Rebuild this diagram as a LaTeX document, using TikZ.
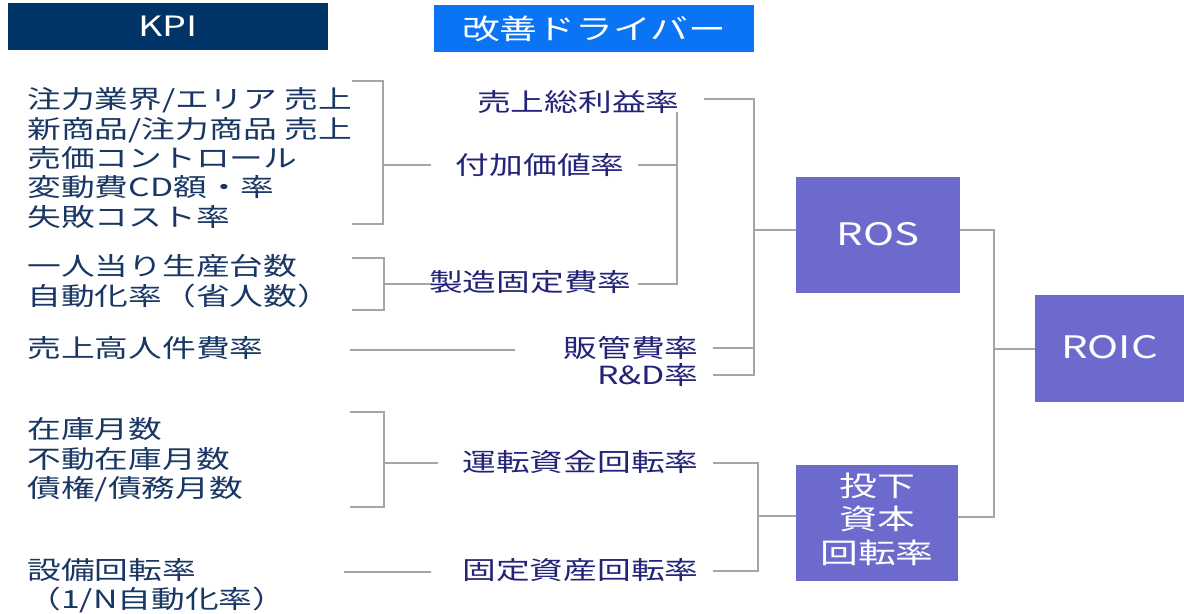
\documentclass[tikz,border=0pt]{standalone}
\usepackage{fontspec}
\setmainfont{Noto Sans CJK JP}
\definecolor{navyhdr}{RGB}{0,51,102}
\definecolor{hdrblue}{RGB}{10,116,245}
\definecolor{boxv}{RGB}{108,106,204}
\definecolor{kpitext}{RGB}{25,55,100}
\definecolor{drvtext}{RGB}{35,35,120}
\definecolor{conncol}{RGB}{165,165,165}
\newcommand{\W}[1]{\scalebox{1.35}[1]{#1}}
\tikzset{
  kpi/.style={anchor=west, inner sep=0pt, text=kpitext, font=\fontsize{12.5}{14.7}\selectfont, align=left},
  drv/.style={anchor=east, inner sep=0pt, text=drvtext, font=\fontsize{12.5}{14.7}\selectfont},
  hdr/.style={inner sep=0pt, text=white, minimum width=160pt, minimum height=23.5pt, font=\fontsize{14}{16}\selectfont},
  ratio/.style={fill=boxv, inner sep=0pt, text=white, font=\fontsize{15.5}{17}\selectfont, align=center},
  conn/.style={draw=conncol, line width=1pt}
}
\begin{document}
\begin{tikzpicture}[x=0.5pt,y=-0.5pt]
\useasboundingbox (0,0) rectangle (1184,614);
% headers
\node[hdr, fill=navyhdr] (kpih) at (168,26.5) {\W{KPI}};
\node[hdr, fill=hdrblue] (drvh) at (594,28.5) {\W{改善ドライバー}};
% connectors (drawn first)
\coordinate (b1t) at (352,81); \coordinate (b1b) at (352,224);
\draw[conn] (b1t) -- (383,81) -- (383,224) -- (b1b);
\draw[conn] (383,165) -- (431,165);
\coordinate (b2t) at (352,258); \coordinate (b2b) at (352,310);
\draw[conn] (b2t) -- (384,258) -- (384,310) -- (b2b);
\draw[conn] (384,284) -- (432,284);
\draw[conn] (350,350) -- (515,350);
\coordinate (b3t) at (350,412); \coordinate (b3b) at (350,507);
\draw[conn] (b3t) -- (384,412) -- (384,507) -- (b3b);
\draw[conn] (384,463) -- (438,463);
\draw[conn] (344,572) -- (431,572);
% inner bracket
\draw[conn] (638,165) -- (677,165);
\draw[conn] (677,112) -- (677,284) -- (638,284);
% ROS bracket
\draw[conn] (704,99) -- (754,99) -- (754,375) -- (713,375);
\draw[conn] (713,348) -- (754,348);
\draw[conn] (754,230) -- (796,230);
% turnover bracket
\draw[conn] (713,463) -- (758,463) -- (758,571) -- (713,571);
\draw[conn] (758,516) -- (796,516);
% ROIC bracket
\draw[conn] (960,230) -- (994,230) -- (994,517) -- (958,517);
\draw[conn] (994,349) -- (1035,349);
% KPI texts
\node[kpi] (k1) at (27,158) {\W{注力業界/エリア 売上}\\\W{新商品/注力商品 売上}\\\W{売価コントロール}\\\W{変動費CD額・率}\\\W{失敗コスト率}};
\node[kpi] (k2) at (27,281) {\W{一人当り生産台数}\\\W{自動化率（省人数）}};
\node[kpi] (k3) at (27,348) {\W{売上高人件費率}};
\node[kpi] (k4) at (27,460) {\W{在庫月数}\\\W{不動在庫月数}\\\W{債権/債務月数}};
\node[kpi] (k5) at (27,586) {\W{設備回転率}\\\W{（1/N自動化率）}};
% drivers
\node[drv] (gp) at (680,102) {\W{売上総利益率}};
\node[drv] (va) at (625,165) {\W{付加価値率}};
\node[drv] (mf) at (632,282) {\W{製造固定費率}};
\node[drv] (sga) at (699,348) {\W{販管費率}};
\node[drv] (rd) at (699,375) {\W{R\&D率}};
\node[drv] (wc) at (699,462) {\W{運転資金回転率}};
\node[drv] (fa) at (699,570) {\W{固定資産回転率}};
% ratio boxes
\node[ratio, minimum width=82pt, minimum height=58pt] (ros) at (878,235) {\raisebox{1.5pt}{\W{ROS}}};
\node[ratio, minimum width=74.5pt, minimum height=53.5pt] (roic) at (1109.5,348.5) {\raisebox{1.5pt}{\W{ROIC}}};
\node[ratio, minimum width=81pt, minimum height=58pt, font=\fontsize{14}{16.8}\selectfont] (ict) at (877,523) {\raisebox{1.5pt}{\begin{tabular}{@{}c@{}}\W{投下}\\\W{資本}\\\W{回転率}\end{tabular}}};
\end{tikzpicture}
\end{document}
